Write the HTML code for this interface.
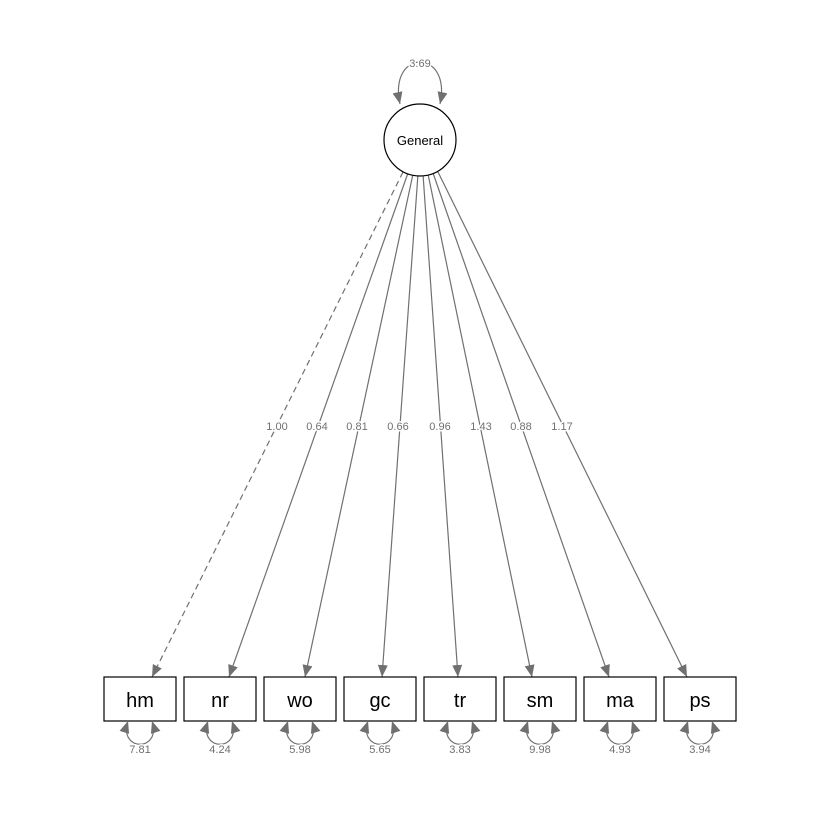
<!DOCTYPE html>
<html><head><meta charset="utf-8"><style>
body{margin:0;background:#fff}
svg{display:block}
text{font-family:"Liberation Sans",sans-serif}
.l{fill:#707070;font-size:11px;text-anchor:middle;stroke:#fff;stroke-width:3px;paint-order:stroke}
.b{font-size:20px;text-anchor:middle}
</style></head><body>
<svg width="840" height="840" viewBox="0 0 840 840">
<defs>
<marker id="a" viewBox="0 0 12 10" refX="12" refY="5" markerWidth="12" markerHeight="10" markerUnits="userSpaceOnUse" orient="auto-start-reverse">
<path d="M0,0 L12,5 L0,10 z" fill="#707070"/></marker>
</defs>
<g stroke="#707070" stroke-width="1.2" fill="none">
<path d="M400,104 C388,48 452,48 440,104" marker-start="url(#a)" marker-end="url(#a)"/>
<line x1="403" y1="172" x2="152" y2="677" stroke-dasharray="6,4" marker-end="url(#a)"/>
<line x1="408" y1="173" x2="229" y2="677" marker-end="url(#a)"/>
<line x1="413" y1="174" x2="305" y2="677" marker-end="url(#a)"/>
<line x1="418" y1="174" x2="382" y2="677" marker-end="url(#a)"/>
<line x1="423" y1="174" x2="458" y2="677" marker-end="url(#a)"/>
<line x1="428" y1="174" x2="532" y2="677" marker-end="url(#a)"/>
<line x1="433" y1="173" x2="609" y2="677" marker-end="url(#a)"/>
<line x1="438" y1="172" x2="687" y2="677" marker-end="url(#a)"/>
</g>
<circle cx="420" cy="140" r="36" fill="#fff" stroke="#000" stroke-width="1.2"/>
<text x="420" y="145" text-anchor="middle" font-size="13">General</text>
<text class="l" x="420" y="67">3.69</text>
<g class="l">
<text x="277" y="430">1.00</text><text x="317" y="430">0.64</text><text x="357" y="430">0.81</text><text x="398" y="430">0.66</text>
<text x="440" y="430">0.96</text><text x="481" y="430">1.43</text><text x="521" y="430">0.88</text><text x="562" y="430">1.17</text>
</g>
<g stroke="#000" stroke-width="1.2" fill="#fff">
<rect x="104" y="677" width="72" height="44"/><rect x="184" y="677" width="72" height="44"/>
<rect x="264" y="677" width="72" height="44"/><rect x="344" y="677" width="72" height="44"/>
<rect x="424" y="677" width="72" height="44"/><rect x="504" y="677" width="72" height="44"/>
<rect x="584" y="677" width="72" height="44"/><rect x="664" y="677" width="72" height="44"/>
</g>
<g class="b">
<text x="140" y="707">hm</text><text x="220" y="707">nr</text><text x="300" y="707">wo</text><text x="380" y="707">gc</text>
<text x="460" y="707">tr</text><text x="540" y="707">sm</text><text x="620" y="707">ma</text><text x="700" y="707">ps</text>
</g>
<g stroke="#707070" stroke-width="1.2" fill="none">
<path d="M128,721 C118,752 162,752 152,721" marker-start="url(#a)" marker-end="url(#a)"/>
<path d="M208,721 C198,752 242,752 232,721" marker-start="url(#a)" marker-end="url(#a)"/>
<path d="M288,721 C278,752 322,752 312,721" marker-start="url(#a)" marker-end="url(#a)"/>
<path d="M368,721 C358,752 402,752 392,721" marker-start="url(#a)" marker-end="url(#a)"/>
<path d="M448,721 C438,752 482,752 472,721" marker-start="url(#a)" marker-end="url(#a)"/>
<path d="M528,721 C518,752 562,752 552,721" marker-start="url(#a)" marker-end="url(#a)"/>
<path d="M608,721 C598,752 642,752 632,721" marker-start="url(#a)" marker-end="url(#a)"/>
<path d="M688,721 C678,752 722,752 712,721" marker-start="url(#a)" marker-end="url(#a)"/>
</g>
<g class="l">
<text x="140" y="753">7.81</text><text x="220" y="753">4.24</text><text x="300" y="753">5.98</text><text x="380" y="753">5.65</text>
<text x="460" y="753">3.83</text><text x="540" y="753">9.98</text><text x="620" y="753">4.93</text><text x="700" y="753">3.94</text>
</g>
</svg>
</body></html>
